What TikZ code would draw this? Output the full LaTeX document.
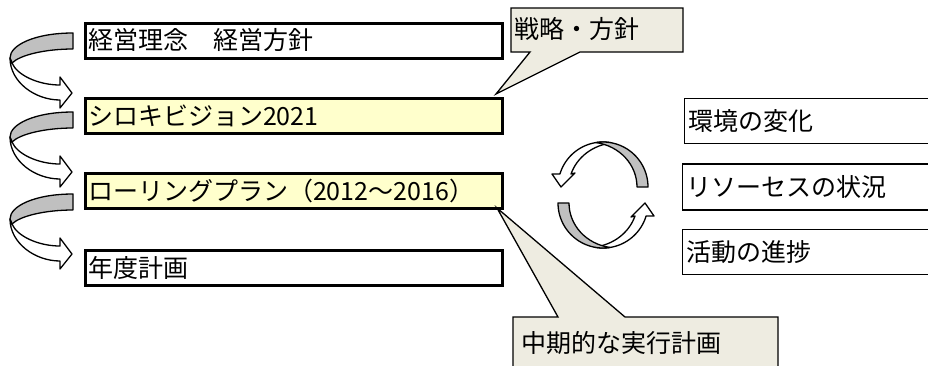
\documentclass[tikz,border=0pt]{standalone}
\usepackage{fontspec}
\newfontfamily\cjk{Noto Sans CJK JP}
\usetikzlibrary{calc}
\definecolor{boxyellow}{HTML}{FFFFCC}
\definecolor{calloutfill}{HTML}{EEECE1}
\definecolor{ribbongrey}{HTML}{C0C0C0}
\tikzset{
  jpfont/.style={font=\cjk\fontsize{25}{28}\selectfont},
  lbox/.style={jpfont, draw=black, line width=3pt, text width=411pt, align=left,
    inner xsep=3pt, inner ysep=0pt, minimum height=35pt, anchor=north west},
  rbox/.style={jpfont, draw=black, line width=1.8pt, fill=white, text width=262pt, align=left,
    inner xsep=4pt, inner ysep=0pt, anchor=north west},
  callout/.style={draw=black, line width=1.3pt, fill=calloutfill, line join=miter},
  ctext/.style={jpfont, inner sep=0pt, anchor=west},
  ribbon/.style={draw=black, line width=1.3pt, line join=round},
  lribbon/.pic={
    \path[ribbon, fill=ribbongrey] (73,33) .. controls (35,33) and (10,45) .. (10,58)
      -- (12,63) .. controls (20,55) and (45,49) .. (73,49) -- cycle;
    \path[ribbon, fill=white] (10,58) .. controls (10,82) and (35,100) .. (60,100)
      -- (60,108) -- (72,93) -- (60,77) -- (60,85)
      .. controls (38,85) and (17,75) .. (12,63) -- cycle;
  },
  cycarrow/.pic={
    \path[ribbon, fill=white]
      plot[variable=\t, domain=-78.5:-163.2, samples=40] ({45*cos(\t)},{-8+45*sin(\t)})
      -- (-51,-21) -- (-42,-8) -- (-28,-22) -- (-32,-21)
      .. controls (-26,-38) and (-10,-50) .. (9,-52.1) -- cycle;
    \path[ribbon, fill=ribbongrey]
      plot[variable=\t, domain=0:-99, samples=40] ({45*cos(\t)},{-8+45*sin(\t)})
      .. controls (17,-49) and (34,-30) .. (34,-8) -- cycle;
  }
}
\begin{document}
\begin{tikzpicture}[x=1pt,y=-1pt]
\fill[white] (0,0) rectangle (928,365);
\useasboundingbox (0,0) rectangle (928,365);
\clip (0,0) rectangle (928,365);

% left column boxes
\node[lbox, fill=white] (b1) at (83.5,21.5) {経営理念　経営方針};
\node[lbox, fill=boxyellow] (b2) at (83.5,96.5) {シロキビジョン2021};
\node[lbox, fill=boxyellow] (b3) at (83.5,171.5) {ローリングプラン（2012～2016）};
\node[lbox, fill=white] (b4) at (83.5,249) {年度計画};

% curved ribbon arrows
\pic at (0,0) {lribbon};
\pic at (0,79) {lribbon};
\pic at (0,161) {lribbon};

% right column boxes
\node[rbox, minimum height=45pt] (r1) at (683.5,97.5) {環境の変化};
\node[rbox, minimum height=46pt] (r2) at (681.5,163) {リソーセスの状況};
\node[rbox, minimum height=45pt] (r3) at (681.5,228.5) {活動の進捗};

% circular arrows
\pic at (603,195) {cycarrow};
\pic[rotate=180] at (603,195) {cycarrow};

% callouts
\coordinate (tip1) at (496,94);
\coordinate (tip2) at (497,208);
\path[callout] (511,8) -- (683,8) -- (683,52) -- (580,52) -- (tip1) -- (530,52) -- (511,52) -- cycle;
\node[ctext] (c1) at (514,29) {戦略・方針};
\path[callout] (513,317) -- (558,317) -- (tip2) -- (625,317) -- (778,317) -- (778,380) -- (513,380) -- cycle;
\node[ctext] (c2) at (521,343) {中期的な実行計画};
\end{tikzpicture}
\end{document}
